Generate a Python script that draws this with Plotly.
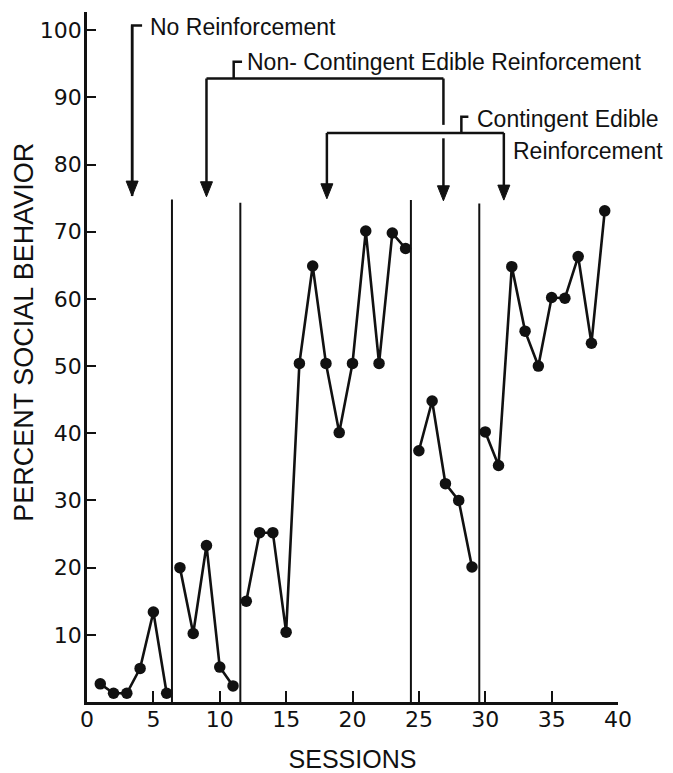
import plotly.graph_objects as go

# ---------------- data ----------------
sessions = list(range(1, 40))
percent_social = [
    2.7, 1.3, 1.3, 5.0, 13.4, 1.3,                 # No reinforcement
    20.0, 10.2, 23.3, 5.2, 2.4,                    # Non-contingent edible
    15.0, 25.2, 25.2, 10.4, 50.4, 64.9, 50.4, 40.1, 50.4, 70.1, 50.4, 69.8, 67.5,  # Contingent edible
    37.4, 44.8, 32.5, 30.0, 20.1,                  # Non-contingent edible
    40.2, 35.2, 64.8, 55.2, 50.0, 60.2, 60.1, 66.3, 53.4, 73.1,  # Contingent edible
]
phase_breaks = [6.4, 11.55, 24.4, 29.55]
phase_line_tops = [74.8, 74.3, 74.7, 74.2]

x_ticks = [0, 5, 10, 15, 20, 25, 30, 35, 40]
y_ticks = [10, 20, 30, 40, 50, 60, 70, 80, 90, 100]

x_title = "SESSIONS"
y_title = "PERCENT SOCIAL BEHAVIOR"
condition_labels = ["No Reinforcement", "Non- Contingent Edible Reinforcement",
                    "Contingent Edible", "Reinforcement"]

# bracket geometry (data coordinates)
arrow_xs = [[3.4], [9.0, 26.85], [18.07, 31.4]]
arrow_tips = [[75.3], [75.2, 74.6], [74.9, 74.7]]
bar_ys = [None, 92.8, 84.7]
stem_xs = [3.4, 11.05, 28.2]
stem_tops = [100.7, 95.3, 87.1]
tick_ends = [4.15, 11.68, 28.73]
text_pos = [(4.6, 100.5), (11.9, 95.2), (29.2, 86.8)]
gap_ranges = [None, (26.85, 83.9, 85.9), None]

BLACK = "#111111"
fig = go.Figure()

# data segments (lines break at phase changes)
bounds = [-1e9] + phase_breaks + [1e9]
for i in range(len(bounds) - 1):
    xs = [s for s in sessions if bounds[i] < s < bounds[i + 1]]
    ys = [percent_social[sessions.index(s)] for s in xs]
    fig.add_trace(go.Scatter(
        x=xs, y=ys, mode="lines+markers",
        line=dict(color=BLACK, width=2.6),
        marker=dict(color=BLACK, size=11.5),
        showlegend=False, hoverinfo="x+y", cliponaxis=False))

# phase change lines
px_, py_ = [], []
for xb, top in zip(phase_breaks, phase_line_tops):
    px_ += [xb, xb, None]
    py_ += [0, top, None]
fig.add_trace(go.Scatter(x=px_, y=py_, mode="lines",
                         line=dict(color=BLACK, width=2),
                         showlegend=False, hoverinfo="skip"))

# brackets
bx, by = [], []
for k in range(3):
    base = bar_ys[k] if bar_ys[k] is not None else arrow_tips[k][0]
    bx += [stem_xs[k], stem_xs[k], tick_ends[k], None]
    by += [base, stem_tops[k], stem_tops[k], None]
    if bar_ys[k] is not None:
        bx += [min(arrow_xs[k]), max(arrow_xs[k]), None]
        by += [bar_ys[k], bar_ys[k], None]
    for ax, tip in zip(arrow_xs[k], arrow_tips[k]):
        top = bar_ys[k] if bar_ys[k] is not None else stem_tops[k]
        g = gap_ranges[k]
        if g is not None and abs(g[0] - ax) < 1e-6:
            bx += [ax, ax, None, ax, ax, None]
            by += [top, g[2], None, g[1], tip + 1.5, None]
        else:
            bx += [ax, ax, None]
            by += [top, tip + 1.5, None]
fig.add_trace(go.Scatter(x=bx, y=by, mode="lines",
                         line=dict(color=BLACK, width=2.5),
                         showlegend=False, hoverinfo="skip", cliponaxis=False))

# arrowheads as pixel-sized triangles anchored at tips
shapes = []
for k in range(3):
    for ax, tip in zip(arrow_xs[k], arrow_tips[k]):
        shapes.append(dict(type="path", xref="x", yref="y",
                           xsizemode="pixel", ysizemode="pixel",
                           xanchor=ax, yanchor=tip,
                           path="M-6,15 L6,15 L0,0 Z",
                           fillcolor=BLACK, line=dict(color=BLACK, width=1)))

ann_font = dict(family="Liberation Sans, Arial, sans-serif", size=23, color=BLACK)
title_font = dict(family="Liberation Sans, Arial, sans-serif", size=27, color=BLACK)
annotations = []
for k in range(3):
    annotations.append(dict(x=text_pos[k][0], y=text_pos[k][1], xref="x", yref="y",
                            text=condition_labels[k], showarrow=False,
                            xanchor="left", yanchor="middle", font=ann_font))
annotations.append(dict(x=1.0885, y=82.0, xref="paper", yref="y",
                        text=condition_labels[3], showarrow=False,
                        xanchor="right", yanchor="middle", font=ann_font))
# y-axis title (placed slightly above the plot centre, as in the original)
annotations.append(dict(x=-0.12, y=0.5355, xref="paper", yref="paper",
                        text=y_title, textangle=-90, showarrow=False,
                        xanchor="center", yanchor="middle", font=title_font))

tick_font = dict(family="DejaVu Sans, sans-serif", size=22, color=BLACK)

# the page body adds an 8 px margin, so the figure is 8 px smaller in each direction
fig.update_layout(
    width=665, height=765,
    margin=dict(l=79, r=55, t=4, b=71, autoexpand=False),
    paper_bgcolor="white", plot_bgcolor="white",
    shapes=shapes, annotations=annotations,
    xaxis=dict(range=[0, 40], tickvals=x_ticks, ticktext=[str(v) for v in x_ticks],
               showline=True, linecolor=BLACK, linewidth=2.5,
               ticks="inside", ticklen=11, tickwidth=2, tickcolor=BLACK,
               showgrid=False, zeroline=False, tickfont=tick_font,
               ticklabelstandoff=-4,
               title=dict(text=x_title, font=dict(family="Liberation Sans, Arial, sans-serif",
                                                  size=25, color=BLACK), standoff=20)),
    yaxis=dict(range=[0, 102.7], tickvals=y_ticks, ticktext=[str(v) for v in y_ticks],
               showline=True, linecolor=BLACK, linewidth=2.5,
               ticks="inside", ticklen=9, tickwidth=2, tickcolor=BLACK,
               showgrid=False, zeroline=False, tickfont=tick_font,
               ticklabelstandoff=-2),
)

fig.write_html("out.html")
